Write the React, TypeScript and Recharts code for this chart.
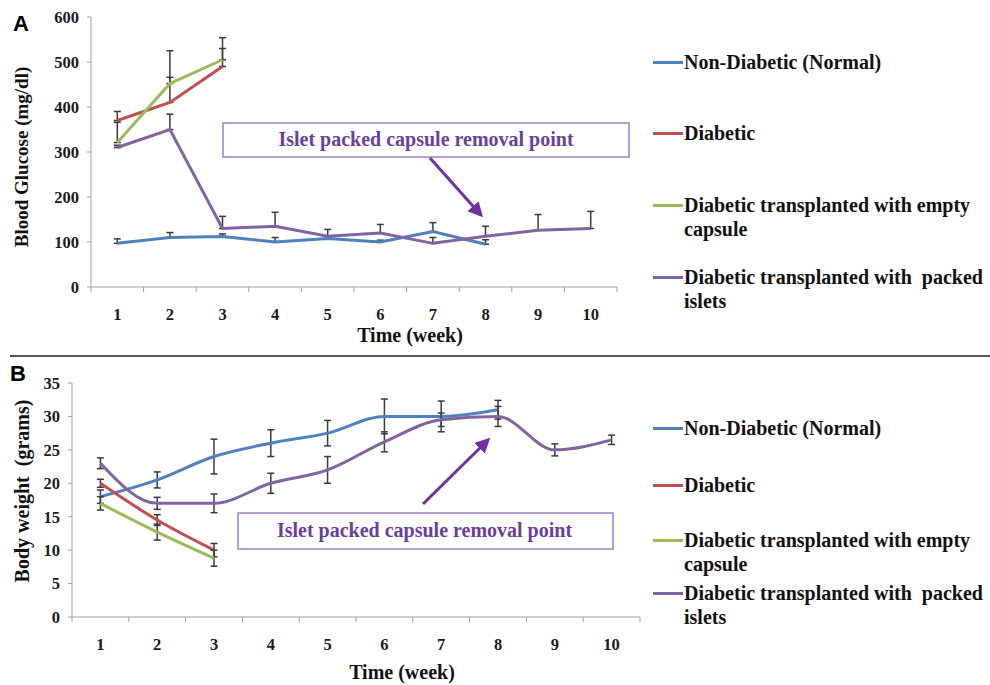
import React from 'react';
import { LineChart, Line, XAxis, YAxis, ErrorBar } from 'recharts';

const weeks = [1, 2, 3, 4, 5, 6, 7, 8, 9, 10];
const weekBounds = [0.5, 1.5, 2.5, 3.5, 4.5, 5.5, 6.5, 7.5, 8.5, 9.5, 10.5];

const seriesNames = [
  'Non-Diabetic (Normal)',
  'Diabetic',
  'Diabetic transplanted with empty capsule',
  'Diabetic transplanted with  packed islets',
];
const seriesColors = ['#4f81bd', '#c0504d', '#9bbb59', '#8064a2'];

// panel A - blood glucose (mg/dl), error bars only upward
const glucoseNormal = [97, 110, 112, 100, 108, 100, 123, 95];
const glucoseNormalErr = [10, 11, 6, 10, 5, 4, 20, 10];
const glucoseDiabetic = [370, 410, 490];
const glucoseDiabeticErr = [20, 56, 40];
const glucoseEmpty = [321, 452, 505];
const glucoseEmptyErr = [45, 73, 49];
const glucosePacked = [310, 350, 130, 135, 113, 120, 97, 113, 126, 130];
const glucosePackedErr = [5, 34, 27, 31, 15, 19, 13, 22, 35, 38];
const glucoseTicks = [0, 100, 200, 300, 400, 500, 600];

// panel B - body weight (grams), symmetric error bars
const weightNormal = [18, 20.5, 24, 26, 27.5, 30, 30, 31];
const weightNormalErr = [1, 1.2, 2.6, 2, 1.9, 2.6, 2.3, 1.4];
const weightDiabetic = [20, 14.5, 10];
const weightDiabeticErr = [0.6, 0.8, 1];
const weightEmpty = [17, 12.7, 8.8];
const weightEmptyErr = [1, 1.2, 1.2];
const weightPacked = [23, 17, 17, 20, 22, 26.2, 29.5, 30, 25, 26.5];
const weightPackedErr = [0.8, 0.9, 1.4, 1.5, 2, 1.5, 1, 1.5, 0.9, 0.7];
const weightTicks = [0, 5, 10, 15, 20, 25, 30, 35];

const SERIF = '"Liberation Serif", "Times New Roman", serif';
const SANS = '"Liberation Sans", Arial, sans-serif';
const AXIS = '#a59d95';

const buildRows = (vals: number[][], errs: number[][], oneSided: boolean) =>
  weeks.map((w, i) => {
    const row: any = { week: w };
    vals.forEach((v, k) => {
      row['s' + k] = v[i] ?? null;
      const e = errs[k][i];
      row['e' + k] = e == null ? undefined : oneSided ? [0, e] : e;
    });
    return row;
  });

const glucoseRows = buildRows(
  [glucoseNormal, glucoseDiabetic, glucoseEmpty, glucosePacked],
  [glucoseNormalErr, glucoseDiabeticErr, glucoseEmptyErr, glucosePackedErr],
  true
);
const weightRows = buildRows(
  [weightNormal, weightDiabetic, weightEmpty, weightPacked],
  [weightNormalErr, weightDiabeticErr, weightEmptyErr, weightPackedErr],
  false
);

const tickStyle = { fontFamily: SERIF, fontWeight: 700, fontSize: 16.5, fill: '#1a1a1a' };

const Panel = ({ ticks, yWidth, smooth }: any) => (
  <>
    {/* axis line with tick marks between the weeks */}
    <XAxis
      dataKey="week"
      type="number"
      domain={[0.5, 10.5]}
      allowDataOverflow
      ticks={weekBounds}
      interval={0}
      height={1}
      stroke={AXIS}
      tickSize={5}
      tickFormatter={() => ''}
    />
    {/* week labels */}
    <XAxis
      xAxisId="labels"
      dataKey="week"
      type="number"
      domain={[0.5, 10.5]}
      allowDataOverflow
      ticks={weeks}
      height={29}
      axisLine={false}
      tickLine={false}
      tickSize={0}
      tickMargin={20}
      tick={tickStyle}
      interval={0}
    />
    <YAxis
      domain={[ticks[0], ticks[ticks.length - 1]]}
      ticks={ticks}
      width={yWidth}
      stroke={AXIS}
      tickSize={4}
      tickMargin={8}
      tick={tickStyle}
      interval={0}
    />
    <Line xAxisId="labels" dataKey="s3" stroke="none" dot={false} activeDot={false} isAnimationActive={false} />
    {seriesColors.map((c, k) => (
      <Line
        key={k}
        dataKey={'s' + k}
        type={smooth ? 'monotone' : 'linear'}
        stroke={c}
        strokeWidth={3}
        dot={false}
        activeDot={false}
        isAnimationActive={false}
      >
        <ErrorBar dataKey={'e' + k} width={3.5} stroke="#3a3a3a" strokeWidth={1.5} direction="y" />
      </Line>
    ))}
  </>
);

const Legend = ({ top }: { top: number[] }) => (
  <>
    {seriesNames.map((n, k) => (
      <div key={k} style={{ position: 'absolute', left: 653, top: top[k] - 12, width: 337 }}>
        <div
          style={{
            position: 'absolute',
            left: 0,
            top: 11,
            width: 30,
            height: 2.5,
            background: seriesColors[k],
          }}
        />
        <div
          style={{
            marginLeft: 31,
            fontFamily: SERIF,
            fontWeight: 700,
            fontSize: 20,
            lineHeight: '24px',
            color: '#111',
            whiteSpace: 'pre-wrap',
            width: 306,
          }}
        >
          {n}
        </div>
      </div>
    ))}
  </>
);

const Callout = ({ box, arrow }: any) => (
  <svg
    width={990}
    height={685}
    style={{ position: 'absolute', left: 0, top: 0, pointerEvents: 'none' }}
  >
    <defs>
      <marker id={'ah' + box[1]} markerWidth="5" markerHeight="5" refX="3.5" refY="2.5" orient="auto">
        <path d="M0,0 L5,2.5 L0,5 Z" fill="#7030a0" />
      </marker>
    </defs>
    <rect x={box[0]} y={box[1]} width={box[2]} height={box[3]} fill="#fff" stroke="#9a80c8" strokeWidth={1.5} />
    <text
      x={box[0] + box[2] / 2 + box[4]}
      y={box[1] + box[3] / 2 + 6}
      textAnchor="middle"
      fontFamily={SERIF}
      fontWeight={700}
      fontSize={20}
      fill="#6a3f9c"
    >
      Islet packed capsule removal point
    </text>
    <line
      x1={arrow[0]}
      y1={arrow[1]}
      x2={arrow[2]}
      y2={arrow[3]}
      stroke="#7030a0"
      strokeWidth={3}
      markerEnd={'url(#ah' + box[1] + ')'}
    />
  </svg>
);

const titleStyle: React.CSSProperties = {
  position: 'absolute',
  fontFamily: SERIF,
  fontWeight: 700,
  fontSize: 20,
  color: '#111',
  whiteSpace: 'pre',
};

export default function App() {
  return (
    <div style={{ position: 'absolute', left: 0, top: 0, width: 990, height: 685, background: '#fff' }}>
      <div style={{ position: 'absolute', left: 0, top: 0 }}>
        <LineChart width={640} height={345} data={glucoseRows} margin={{ top: 17, right: 23, left: 31, bottom: 28 }}>
          {Panel({ ticks: glucoseTicks, yWidth: 60, smooth: false })}
        </LineChart>
      </div>
      <div style={{ position: 'absolute', left: 0, top: 360 }}>
        <LineChart width={660} height={325} data={weightRows} margin={{ top: 23, right: 20, left: 22, bottom: 38 }}>
          {Panel({ ticks: weightTicks, yWidth: 50, smooth: true })}
        </LineChart>
      </div>

      <Callout box={[223, 123, 406, 34, 0]} arrow={[430, 158, 480, 214]} />
      <Callout box={[238, 513, 375, 36, -1]} arrow={[423, 504, 487, 441]} />

      <div style={{ position: 'absolute', left: 10, top: 355, width: 980, height: 2, background: '#555' }} />

      <div style={{ position: 'absolute', left: 13, top: 11, fontFamily: SANS, fontWeight: 700, fontSize: 22 }}>A</div>
      <div style={{ position: 'absolute', left: 10, top: 361, fontFamily: SANS, fontWeight: 700, fontSize: 22 }}>B</div>

      <div style={{ ...titleStyle, left: 410, top: 335, transform: 'translate(-50%, -50%)' }}>Time (week)</div>
      <div style={{ ...titleStyle, left: 402, top: 672, transform: 'translate(-50%, -50%)' }}>Time (week)</div>
      <div style={{ ...titleStyle, fontSize: 19, left: 22, top: 157, transform: 'translate(-50%, -50%) rotate(-90deg)' }}>
        Blood Glucose (mg/dl)
      </div>
      <div style={{ ...titleStyle, left: 22, top: 491, transform: 'translate(-50%, -50%) rotate(-90deg)' }}>
        {'Body weight  (grams)'}
      </div>

      <Legend top={[62, 133, 205, 277]} />
      <Legend top={[428, 485, 540, 593]} />
    </div>
  );
}
